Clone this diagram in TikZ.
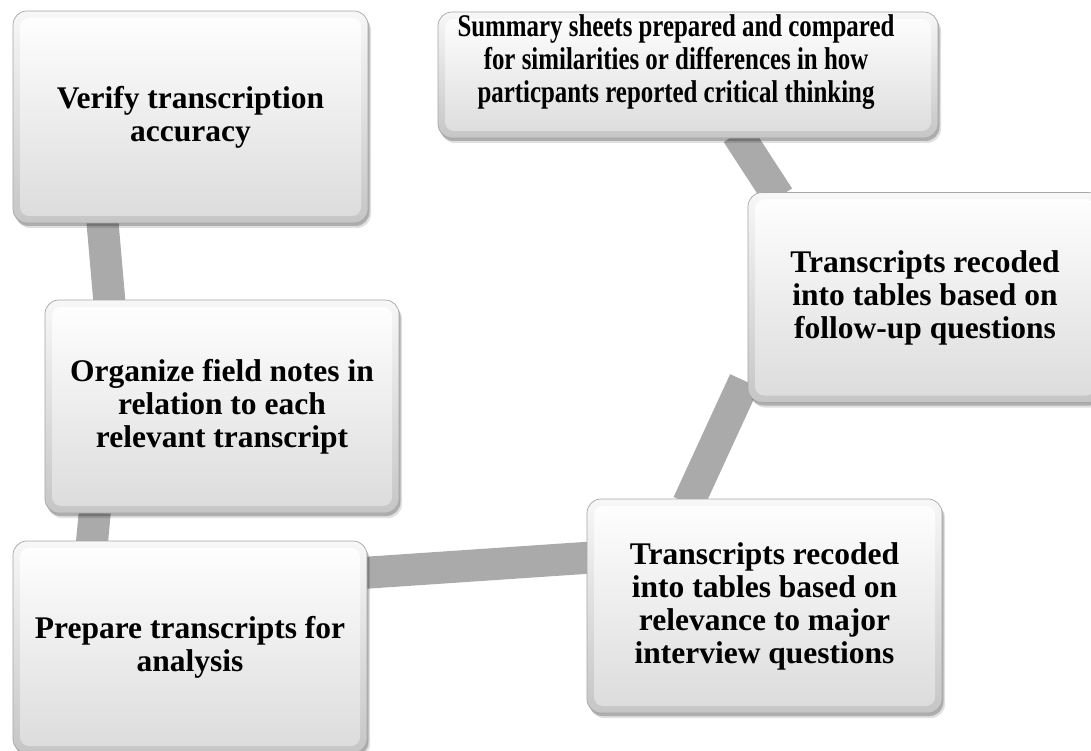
\documentclass[tikz,border=0pt]{standalone}
\usepackage{fontspec}
\setmainfont{Liberation Serif}
\usepackage{graphicx}
\usetikzlibrary{calc,shadows}
\definecolor{barc}{RGB}{170,170,170}
\pgfdeclarelayer{bgl}
\pgfdeclarelayer{barl}
\pgfsetlayers{bgl,barl,main}
\tikzset{
  box/.style={draw=gray!70, line width=0.7pt, rounded corners=14pt,
    top color=gray!6, bottom color=gray!45,
    general shadow={shadow xshift=3pt, shadow yshift=-5pt, fill=black, opacity=0.12},
    general shadow={shadow xshift=1.5pt, shadow yshift=-3pt, fill=black, opacity=0.22},
    font=\bfseries\fontsize{31.5}{33}\selectfont, align=center, inner sep=0pt,
    path picture={\shade[rounded corners=9pt, top color=white, middle color=gray!5, bottom color=gray!28]
      ($(path picture bounding box.north west)+(7pt,-7pt)$) rectangle
      ($(path picture bounding box.south east)+(-7pt,7pt)$);}},
  bar/.style={draw=barc, line width=32pt}
}
\begin{document}
\begin{tikzpicture}[x=1pt,y=-1pt]
\begin{pgfonlayer}{bgl}
\fill[white] (0,0) rectangle (1091,751);
\end{pgfonlayer}
\useasboundingbox (0,0) rectangle (1091,751);
\node[box, minimum width=355pt, minimum height=212pt] (b1) at (190.5,117) {Verify transcription\\accuracy};
\node[box, minimum width=354pt, minimum height=213pt] (b2) at (222,406.5) {Organize field notes in\\relation to each\\relevant transcript};
\node[box, minimum width=354pt, minimum height=212pt] (b3) at (190,647) {Prepare transcripts for\\analysis};
\node[box, minimum width=355pt, minimum height=214pt] (b4) at (764.5,606) {Transcripts recoded\\into tables based on\\relevance to major\\interview questions};
\node[box, minimum width=354pt, minimum height=210pt] (b5) at (925,297.5) {Transcripts recoded\\into tables based on\\follow-up questions};
\node[box, align=none, minimum width=500pt, minimum height=126pt] (b6) at (688,75) {\raisebox{12pt}[\height][\depth]{\scalebox{0.79}[1]{\begin{tabular}{@{}c@{}}Summary sheets prepared and compared\\for similarities or differences in how\\particpants reported critical thinking\end{tabular}}}\kern24pt};
\begin{pgfonlayer}{barl}
\draw[bar] ($(b1.south west)+(89.5,-5)$) -- ($(b2.north west)+(65,5)$);
\draw[bar] ($(b2.south west)+(50.5,-5)$) -- ($(b3.north west)+(79,5)$);
\draw[bar] ($(b3.east)+(-5,-74)$) -- ($(b4.west)+(5,-48.5)$);
\draw[bar] ($(b4.north west)+(101.5,5)$) -- ($(b5.south west)+(-3,-22)$);
\draw[bar] ($(b6.south west)+(299.5,-5)$) -- ($(b5.north west)+(31,5)$);
\end{pgfonlayer}
\end{tikzpicture}
\end{document}
